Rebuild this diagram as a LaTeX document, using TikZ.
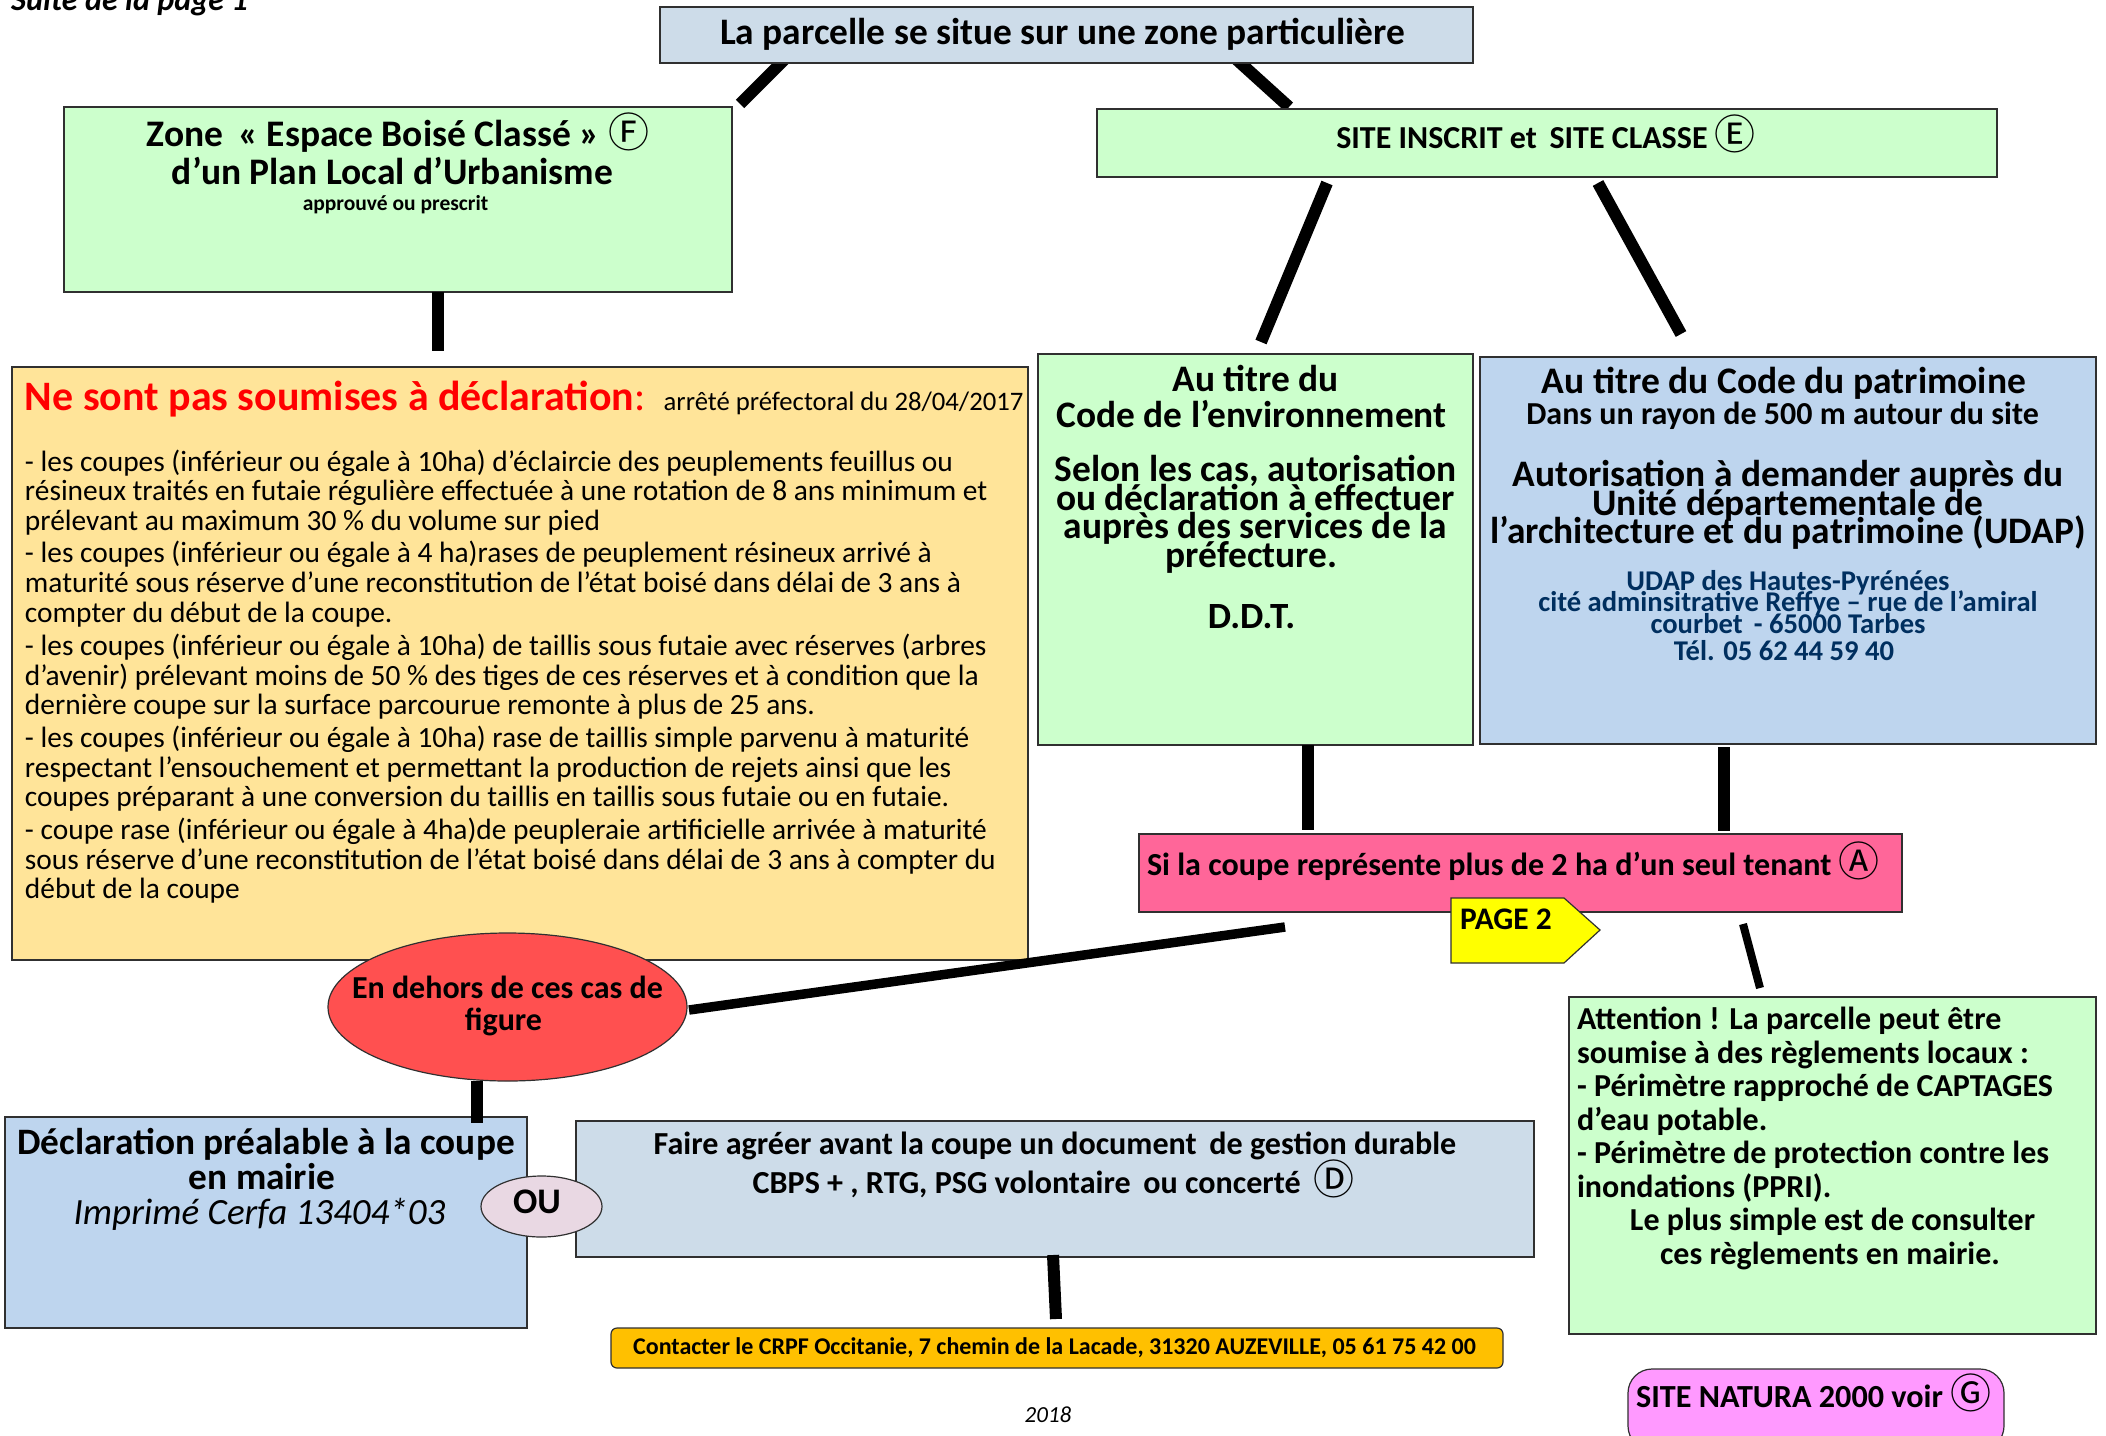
\documentclass[tikz,border=0pt]{standalone}
\usepackage{fontspec}
\usetikzlibrary{shapes.geometric,calc}
\setmainfont{Carlito}
\newfontfamily\circfont{Noto Sans CJK JP}
\newcommand{\fs}[2]{\fontsize{#1}{#2}\selectfont}
\newcommand{\circl}[1]{{\circfont\fontseries{m}\fontsize{41}{41}\selectfont\raisebox{-1pt}{#1}}}
\newcommand{\mybox}[7]{%
  \pgfmathsetmacro\bw{#4-#2}\pgfmathsetmacro\bh{#5-#3}%
  \node[flowbox,#6,anchor=north west] (#1) at (#2,#3) {\parbox[c][\bh pt][t]{\bw pt}{\lineskiplimit=-1000pt #7}};}
\definecolor{cgreen}{HTML}{CCFFCC}
\definecolor{cgrey}{HTML}{CDDCE9}
\definecolor{cblue}{HTML}{BED5EE}
\definecolor{corange}{HTML}{FFE499}
\definecolor{cpink}{HTML}{FF6699}
\definecolor{cred}{HTML}{FF5050}
\definecolor{cou}{HTML}{E9D8E3}
\definecolor{cyell}{HTML}{FFFF00}
\definecolor{camber}{HTML}{FFC000}
\definecolor{cviolet}{HTML}{FF99FF}
\definecolor{cnavy}{HTML}{002F5F}
\definecolor{cedge}{HTML}{303030}
\pgfdeclarelayer{behind}
\pgfsetlayers{behind,main}
\tikzset{
  flowbox/.style={draw=cedge,line width=1.2pt,inner sep=0pt,outer sep=0pt},
  conn/.style={line width=12pt,black,line cap=butt},
  thinconn/.style={line width=8pt,black,line cap=butt},
}
\begin{document}
\begin{tikzpicture}[x=1pt,y=-1pt]
\useasboundingbox (0,0) rectangle (2106,1435);
\node[anchor=base west,inner sep=0pt,font=\bfseries\itshape\fs{32.2}{34}] (suite) at (11,10) {Suite de la page 1};

\mybox{top}{660}{7}{1473}{63}{fill=cgrey}{\centering\vspace{11pt}\bfseries\fs{37.4}{40}La parcelle se situe sur une zone particulière\hspace*{8pt}\par}

\mybox{fbox}{64}{107}{732}{292}{fill=cgreen}{\centering\vspace{6pt}\bfseries\fs{37.5}{38}Zone\, « Espace Boisé Classé » \circl{Ⓕ}\hspace*{5pt}\\d’un Plan Local d’Urbanisme\hspace*{11pt}\par\vspace{4pt}\fs{21.5}{22}approuvé ou prescrit\hspace*{5pt}\par}

\mybox{site}{1097}{109}{1997}{177}{fill=cgreen}{\centering\vspace{6pt}\bfseries\fs{32}{40}SITE INSCRIT et\, SITE CLASSE \circl{Ⓔ}\hspace*{2pt}\par}

\mybox{env}{1038}{354}{1473}{745}{fill=cgreen}{\centering\vspace{11pt}\bfseries\fs{37.4}{36}Au titre du\hspace*{11pt}\\Code de l’environnement\hspace*{8pt}\par\vspace{26pt}\fs{37.4}{28.5}Selon les cas, autorisation\\ou déclaration à effectuer\\auprès des services de la\\préfecture.\hspace*{8pt}\par\vspace{27pt}\fs{37}{34}D.D.T.\hspace*{8pt}\par}

\mybox{pat}{1480}{357}{2096}{744}{fill=cblue}{\centering\vspace{10pt}\bfseries\fs{37.5}{36}Au titre du Code du patrimoine\hspace*{8pt}\par\vspace{0pt}\fs{32}{31}Dans un rayon de 500 m autour du site\hspace*{11pt}\par\vspace{34pt}\fs{37.4}{28.5}Autorisation à demander auprès du\\Unité départementale de\\l’architecture et du patrimoine (UDAP)\par\vspace{25pt}\color{cnavy}\fs{28.6}{21.5}UDAP des Hautes-Pyrénées\\cité adminsitrative Reffye – rue de l’amiral\\courbet\, - 65000 Tarbes\par\vspace{5.5pt}Tél. 05 62 44 59 40\hspace*{8pt}\par}

\mybox{orange}{12}{367}{1028}{960}{fill=corange}{\raggedright\leftskip=13pt\rightskip=-20pt plus 1fil\vspace{14pt}%
{\color{red}\bfseries\fs{41.9}{44}Ne sont pas soumises à déclaration}{\color{red}\fs{41.9}{44}:}{\fs{41.9}{44}\ }\hspace{9pt}{\fs{26.7}{44}arrêté préfectoral du 28/04/2017}\par\vspace{31pt}%
\fs{29.4}{29.7}- les coupes (inférieur ou égale à 10ha) d’éclaircie des peuplements feuillus ou\\résineux traités en futaie régulière effectuée à une rotation de 8 ans minimum et\\prélevant au maximum 30 \% du volume sur pied\par\vspace{2.5pt}%
- les coupes (inférieur ou égale à 4 ha)rases de peuplement résineux arrivé à\\maturité sous réserve d’une reconstitution de l’état boisé dans délai de 3 ans à\\compter du début de la coupe.\par\vspace{3.5pt}%
- les coupes (inférieur ou égale à 10ha) de taillis sous futaie avec réserves (arbres\\d’avenir) prélevant moins de 50 \% des tiges de ces réserves et à condition que la\\dernière coupe sur la surface parcourue remonte à plus de 25 ans.\par\vspace{3pt}%
- les coupes (inférieur ou égale à 10ha) rase de taillis simple parvenu à maturité\\respectant l’ensouchement et permettant la production de rejets ainsi que les\\coupes préparant à une conversion du taillis en taillis sous futaie ou en futaie.\par\vspace{3pt}%
- coupe rase (inférieur ou égale à 4ha)de peupleraie artificielle arrivée à maturité\\sous réserve d’une reconstitution de l’état boisé dans délai de 3 ans à compter du\\début de la coupe\par}

\mybox{pink}{1139}{834}{1902}{912}{fill=cpink}{\raggedright\leftskip=8pt\vspace{7.5pt}\bfseries\fs{32.1}{40}Si la coupe représente plus de 2 ha d’un seul tenant \circl{Ⓐ}\par}

\draw[flowbox,fill=cyell] (1451,898) -- (1564,898) -- (1600,930) -- (1564,963) -- (1451,963) -- cycle;
\node[anchor=base west,inner sep=0pt,font=\bfseries\fs{31.4}{32}] (page) at (1460,929) {PAGE 2};

\node[flowbox,fill=cred,ellipse,minimum width=359pt,minimum height=148pt] (dehors) at (507.5,1007) {\makebox[0pt]{\parbox{340pt}{\centering\bfseries\fs{32}{32}En dehors de ces cas de\\figure\hspace*{8pt}\par\vspace{2pt}}}};

\mybox{decl}{5}{1117}{527}{1328}{fill=cblue}{\centering\vspace{11pt}\bfseries\fs{37.3}{35}Déclaration préalable à la coupe\\en mairie\hspace*{8pt}\par\mdseries\itshape\fs{37}{35}Imprimé Cerfa 13404*03\hspace*{13pt}\par}

\mybox{faire}{576}{1121}{1534}{1257}{fill=cgrey}{\centering\vspace{11pt}\bfseries\fs{32.1}{39}Faire agréer avant la coupe un document\, de gestion durable\hspace*{8pt}\\CBPS + , RTG, PSG volontaire\, ou concerté\, \circl{Ⓓ}\hspace*{3pt}\par}

\node[flowbox,fill=cou,ellipse,minimum width=121pt,minimum height=61pt,font=\bfseries\fs{36}{36}] (ou) at (541.5,1206.5) {\raisebox{10pt}{\makebox[0pt]{OU\hspace*{9pt}}}};

\mybox{crpf}{611}{1328}{1503}{1368}{fill=camber,rounded corners=6pt}{\centering\vspace{10pt}\bfseries\fs{24}{28}Contacter le CRPF Occitanie, 7 chemin de la Lacade, 31320 AUZEVILLE, 05 61 75 42 00\hspace*{5pt}\par}

\mybox{attn}{1569}{997}{2096}{1334}{fill=cgreen}{\raggedright\leftskip=8pt\vspace{10pt}\bfseries\fs{32}{33.5}Attention ! La parcelle peut être\\soumise à des règlements locaux :\\- Périmètre rapproché de CAPTAGES\\d’eau potable.\\- Périmètre de protection contre les\\inondations (PPRI).\par\leftskip=0pt\rightskip=0pt\centering Le plus simple est de consulter\hspace*{5pt}\\ces règlements en mairie.\hspace*{5pt}\par}

\mybox{natura}{1628}{1369}{2004}{1450}{fill=cviolet,rounded corners=24pt}{\raggedright\leftskip=8pt\vspace{5pt}\bfseries\fs{32.2}{40}SITE NATURA 2000 voir \circl{Ⓖ}\par}

\node[inner sep=0pt,font=\itshape\fs{23}{24}] (year) at (1048,1415) {2018};

% connectors
\begin{pgfonlayer}{behind}
\draw[conn] ($(top.south west)+(125,-4)$) -- ($(fbox.north east)+(8,-3)$);
\draw[conn] ($(top.south west)+(576,-4)$) -- ($(site.north west)+(192,-2)$);
\end{pgfonlayer}
\draw[conn] ($(site.south west)+(230,6)$) -- ($(env.north west)+(223,-12)$);
\draw[conn] ($(site.south west)+(501,6)$) -- ($(pat.north west)+(201,-23)$);
\draw[conn] ($(fbox.south west)+(373.5,0)$) -- ($(orange.north west)+(425.5,-16)$);
\draw[conn] ($(env.south west)+(270,0)$) -- ($(pink.north west)+(169,-4)$);
\draw[conn] ($(pat.south west)+(244,3)$) -- ($(pink.north west)+(585,-3)$);
\draw[thinconn] ($(pink.south west)+(604,12)$) -- ($(attn.north west)+(191,-9)$);
\draw[thinconn,line width=9.5pt] ($(dehors.east)+(2,3)$) -- ($(pink.south west)+(146,15)$);
\draw[conn] ($(dehors.south)+(-30.5,0)$) -- ($(decl.north west)+(472,6)$);
\draw[conn] ($(faire.south west)+(477,-2)$) -- ($(crpf.north west)+(445,-9)$);
\end{tikzpicture}
\end{document}
